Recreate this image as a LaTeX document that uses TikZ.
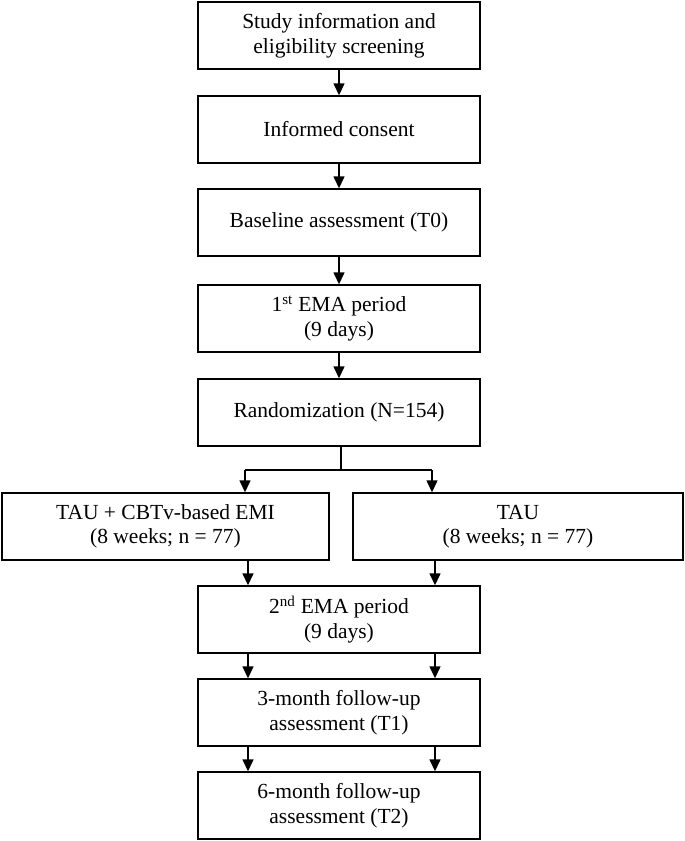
\documentclass[tikz,border=0pt]{standalone}
\usepackage{fontspec}
\setmainfont{Liberation Serif}
\usetikzlibrary{arrows.meta}
\tikzset{
  box/.style={draw, line width=1.4pt, minimum width=282pt, minimum height=67pt,
    inner sep=0pt, align=center, font=\fontsize{21.5}{24.5}\selectfont},
  sidebox/.style={box, minimum width=327pt},
  arr/.style={line width=1.4pt, -{Triangle[length=12pt,width=11pt]}},
  ln/.style={line width=1.4pt}
}
\begin{document}
\begin{tikzpicture}[x=1pt,y=-1pt]
\useasboundingbox (0,0) rectangle (685,841);
\node[box] (b1) at (339,35.5) {Study information and\\eligibility screening};
\node[box] (b2) at (339,129.5) {Informed consent};
\node[box] (b3) at (339,222.5) {Baseline assessment (T0)};
\node[box] (b4) at (339,318.5) {1\textsuperscript{st} EMA period\\(9 days)};
\node[box] (b5) at (339,412.5) {Randomization (N=154)};
\node[sidebox] (l) at (165.5,526.5) {TAU + CBTv-based EMI\\(8 weeks; n = 77)};
\node[box, minimum width=330pt] (r) at (518,526.5) {TAU\\(8 weeks; n = 77)};
\node[box] (b6) at (339,619.5) {2\textsuperscript{nd} EMA period\\(9 days)};
\node[box] (b7) at (339,712.5) {3-month follow-up\\assessment (T1)};
\node[box] (b8) at (339,805.5) {6-month follow-up\\assessment (T2)};
\coordinate (split) at (341,470);
\coordinate (xl) at (245,470);
\coordinate (xr) at (432,470);
\coordinate (dl) at (248,0);
\coordinate (dr) at (435,0);
\draw[arr] (b1) -- (b2);
\draw[arr] (b2) -- (b3);
\draw[arr] (b3) -- (b4);
\draw[arr] (b4) -- (b5);
\draw[ln] (b5.south -| split) -- (split);
\draw[ln] (xl) -- (xr);
\draw[arr] (xl) -- (l.north -| xl);
\draw[arr] (xr) -- (r.north -| xr);
\draw[arr] (l.south -| dl) -- (b6.north -| dl);
\draw[arr] (r.south -| dr) -- (b6.north -| dr);
\draw[arr] (b6.south -| dl) -- (b7.north -| dl);
\draw[arr] (b6.south -| dr) -- (b7.north -| dr);
\draw[arr] (b7.south -| dl) -- (b8.north -| dl);
\draw[arr] (b7.south -| dr) -- (b8.north -| dr);
\end{tikzpicture}
\end{document}
